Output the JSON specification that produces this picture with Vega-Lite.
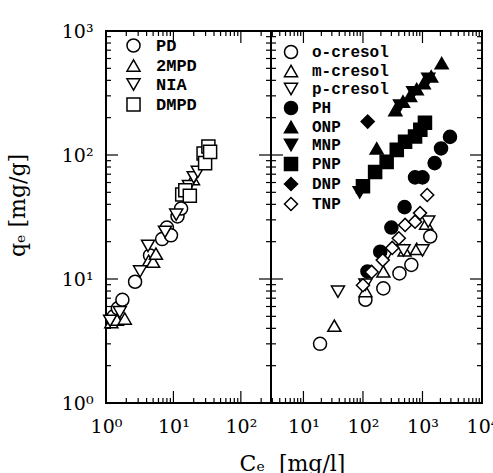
{
  "$schema": "https://vega.github.io/schema/vega-lite/v6.json",
  "padding": {"left": 5, "top": 21, "right": 0, "bottom": 0},
  "background": "white",
  "config": {
    "view": {"stroke": "black", "strokeWidth": 2},
    "axis": {"domain": false, "ticks": false, "grid": false, "labelFont": "DejaVu Serif", "labelFontSize": 19, "labelColor": "black", "titleFont": "DejaVu Serif", "titleFontSize": 22, "titleFontWeight": "normal", "titleColor": "black", "labelOverlap": false, "labelFlush": false},
    "legend": {"labelFont": "Liberation Mono", "labelFontWeight": "bold", "labelFontSize": 17, "labelColor": "black"}
  },
  "datasets": {
    "left": [
      {"series": "PD", "C": 1.3, "q": 5.0}, {"series": "PD", "C": 1.5, "q": 5.8}, {"series": "PD", "C": 1.75, "q": 6.8}, {"series": "PD", "C": 2.7, "q": 9.5}, {"series": "PD", "C": 4.5, "q": 15.5}, {"series": "PD", "C": 6.8, "q": 21}, {"series": "PD", "C": 8.0, "q": 26}, {"series": "PD", "C": 9.2, "q": 22.5}, {"series": "PD", "C": 11.5, "q": 32}, {"series": "PD", "C": 13, "q": 37},
      {"series": "2MPD", "C": 1.2, "q": 4.5}, {"series": "2MPD", "C": 1.45, "q": 4.7}, {"series": "2MPD", "C": 1.9, "q": 4.8}, {"series": "2MPD", "C": 4.3, "q": 14}, {"series": "2MPD", "C": 5.0, "q": 13.8}, {"series": "2MPD", "C": 5.5, "q": 16}, {"series": "2MPD", "C": 14.5, "q": 50}, {"series": "2MPD", "C": 19.5, "q": 64},
      {"series": "NIA", "C": 1.15, "q": 4.6}, {"series": "NIA", "C": 1.6, "q": 5.4}, {"series": "NIA", "C": 3.2, "q": 11.5}, {"series": "NIA", "C": 4.2, "q": 18.5}, {"series": "NIA", "C": 7.5, "q": 24}, {"series": "NIA", "C": 11, "q": 33}, {"series": "NIA", "C": 17, "q": 56}, {"series": "NIA", "C": 20, "q": 66}, {"series": "NIA", "C": 23, "q": 73},
      {"series": "DMPD", "C": 13.5, "q": 48}, {"series": "DMPD", "C": 15, "q": 52}, {"series": "DMPD", "C": 17.5, "q": 47}, {"series": "DMPD", "C": 28, "q": 103}, {"series": "DMPD", "C": 29.5, "q": 86}, {"series": "DMPD", "C": 33, "q": 117}, {"series": "DMPD", "C": 35, "q": 106}
    ],
    "right": [
      {"series": "o-cresol", "C": 19, "q": 3.0}, {"series": "o-cresol", "C": 110, "q": 6.8}, {"series": "o-cresol", "C": 220, "q": 8.4}, {"series": "o-cresol", "C": 410, "q": 11.1}, {"series": "o-cresol", "C": 650, "q": 13}, {"series": "o-cresol", "C": 1350, "q": 22},
      {"series": "m-cresol", "C": 33, "q": 4.2}, {"series": "m-cresol", "C": 110, "q": 8.0}, {"series": "m-cresol", "C": 220, "q": 11.5}, {"series": "m-cresol", "C": 500, "q": 17}, {"series": "m-cresol", "C": 800, "q": 17.5}, {"series": "m-cresol", "C": 1150, "q": 28},
      {"series": "p-cresol", "C": 38, "q": 7.9}, {"series": "p-cresol", "C": 110, "q": 9.0}, {"series": "p-cresol", "C": 250, "q": 15.5}, {"series": "p-cresol", "C": 480, "q": 17}, {"series": "p-cresol", "C": 1000, "q": 17}, {"series": "p-cresol", "C": 1250, "q": 29},
      {"series": "PH", "C": 119, "q": 11.5}, {"series": "PH", "C": 195, "q": 16.6}, {"series": "PH", "C": 300, "q": 26}, {"series": "PH", "C": 500, "q": 38}, {"series": "PH", "C": 750, "q": 66}, {"series": "PH", "C": 1000, "q": 66}, {"series": "PH", "C": 1600, "q": 86}, {"series": "PH", "C": 2050, "q": 113}, {"series": "PH", "C": 2900, "q": 140},
      {"series": "ONP", "C": 170, "q": 113}, {"series": "ONP", "C": 350, "q": 230}, {"series": "ONP", "C": 470, "q": 270}, {"series": "ONP", "C": 620, "q": 300}, {"series": "ONP", "C": 800, "q": 340}, {"series": "ONP", "C": 1050, "q": 380}, {"series": "ONP", "C": 1400, "q": 430}, {"series": "ONP", "C": 2100, "q": 550},
      {"series": "MNP", "C": 88, "q": 50}, {"series": "MNP", "C": 420, "q": 250}, {"series": "MNP", "C": 700, "q": 320}, {"series": "MNP", "C": 1250, "q": 410},
      {"series": "PNP", "C": 100, "q": 56}, {"series": "PNP", "C": 160, "q": 73}, {"series": "PNP", "C": 250, "q": 88}, {"series": "PNP", "C": 370, "q": 110}, {"series": "PNP", "C": 510, "q": 128}, {"series": "PNP", "C": 750, "q": 141}, {"series": "PNP", "C": 920, "q": 160}, {"series": "PNP", "C": 1100, "q": 182},
      {"series": "DNP", "C": 120, "q": 186},
      {"series": "TNP", "C": 100, "q": 8.9}, {"series": "TNP", "C": 140, "q": 11.4}, {"series": "TNP", "C": 215, "q": 14.2}, {"series": "TNP", "C": 310, "q": 17.8}, {"series": "TNP", "C": 400, "q": 21.3}, {"series": "TNP", "C": 510, "q": 27.3}, {"series": "TNP", "C": 750, "q": 29}, {"series": "TNP", "C": 910, "q": 34}, {"series": "TNP", "C": 1200, "q": 47.6}
    ],
    "yt": [
      {"v": 10, "kind": "major"}, {"v": 100, "kind": "major"},
      {"v": 2, "kind": "minor"}, {"v": 3, "kind": "minor"}, {"v": 4, "kind": "minor"}, {"v": 5, "kind": "minor"}, {"v": 6, "kind": "minor"}, {"v": 7, "kind": "minor"}, {"v": 8, "kind": "minor"}, {"v": 9, "kind": "minor"},
      {"v": 20, "kind": "minor"}, {"v": 30, "kind": "minor"}, {"v": 40, "kind": "minor"}, {"v": 50, "kind": "minor"}, {"v": 60, "kind": "minor"}, {"v": 70, "kind": "minor"}, {"v": 80, "kind": "minor"}, {"v": 90, "kind": "minor"},
      {"v": 200, "kind": "minor"}, {"v": 300, "kind": "minor"}, {"v": 400, "kind": "minor"}, {"v": 500, "kind": "minor"}, {"v": 600, "kind": "minor"}, {"v": 700, "kind": "minor"}, {"v": 800, "kind": "minor"}, {"v": 900, "kind": "minor"}
    ],
    "lxt": [
      {"v": 10, "kind": "major"}, {"v": 100, "kind": "major"},
      {"v": 2, "kind": "minor"}, {"v": 3, "kind": "minor"}, {"v": 4, "kind": "minor"}, {"v": 5, "kind": "minor"}, {"v": 6, "kind": "minor"}, {"v": 7, "kind": "minor"}, {"v": 8, "kind": "minor"}, {"v": 9, "kind": "minor"},
      {"v": 20, "kind": "minor"}, {"v": 30, "kind": "minor"}, {"v": 40, "kind": "minor"}, {"v": 50, "kind": "minor"}, {"v": 60, "kind": "minor"}, {"v": 70, "kind": "minor"}, {"v": 80, "kind": "minor"}, {"v": 90, "kind": "minor"},
      {"v": 200, "kind": "minor"}
    ],
    "rxt": [
      {"v": 10, "kind": "major"}, {"v": 100, "kind": "major"}, {"v": 1000, "kind": "major"},
      {"v": 3, "kind": "minor"}, {"v": 4, "kind": "minor"}, {"v": 5, "kind": "minor"}, {"v": 6, "kind": "minor"}, {"v": 7, "kind": "minor"}, {"v": 8, "kind": "minor"}, {"v": 9, "kind": "minor"},
      {"v": 20, "kind": "minor"}, {"v": 30, "kind": "minor"}, {"v": 40, "kind": "minor"}, {"v": 50, "kind": "minor"}, {"v": 60, "kind": "minor"}, {"v": 70, "kind": "minor"}, {"v": 80, "kind": "minor"}, {"v": 90, "kind": "minor"},
      {"v": 200, "kind": "minor"}, {"v": 300, "kind": "minor"}, {"v": 400, "kind": "minor"}, {"v": 500, "kind": "minor"}, {"v": 600, "kind": "minor"}, {"v": 700, "kind": "minor"}, {"v": 800, "kind": "minor"}, {"v": 900, "kind": "minor"},
      {"v": 2000, "kind": "minor"}, {"v": 3000, "kind": "minor"}, {"v": 4000, "kind": "minor"}, {"v": 5000, "kind": "minor"}, {"v": 6000, "kind": "minor"}, {"v": 7000, "kind": "minor"}, {"v": 8000, "kind": "minor"}, {"v": 9000, "kind": "minor"}
    ]
  },
  "hconcat": [
    {
      "width": 165,
      "height": 372,
      "layer": [
        {"data": {"name": "lxt"}, "transform": [{"filter": "datum.kind == 'major'"}], "mark": {"type": "tick", "orient": "vertical", "size": 12, "thickness": 1.2, "color": "black", "opacity": 1, "yOffset": -6}, "encoding": {"x": {"field": "v", "type": "quantitative", "axis": null}, "y": {"datum": 1, "type": "quantitative", "axis": null}}},
        {"data": {"name": "lxt"}, "transform": [{"filter": "datum.kind == 'minor'"}], "mark": {"type": "tick", "orient": "vertical", "size": 5, "thickness": 1.2, "color": "black", "opacity": 1, "yOffset": -2.5}, "encoding": {"x": {"field": "v", "type": "quantitative", "axis": null}, "y": {"datum": 1, "type": "quantitative", "axis": null}}},
        {"data": {"name": "lxt"}, "transform": [{"filter": "datum.kind == 'major'"}], "mark": {"type": "tick", "orient": "vertical", "size": 12, "thickness": 1.2, "color": "black", "opacity": 1, "yOffset": 6}, "encoding": {"x": {"field": "v", "type": "quantitative", "axis": null}, "y": {"datum": 1000, "type": "quantitative", "axis": null}}},
        {"data": {"name": "lxt"}, "transform": [{"filter": "datum.kind == 'minor'"}], "mark": {"type": "tick", "orient": "vertical", "size": 5, "thickness": 1.2, "color": "black", "opacity": 1, "yOffset": 2.5}, "encoding": {"x": {"field": "v", "type": "quantitative", "axis": null}, "y": {"datum": 1000, "type": "quantitative", "axis": null}}},
        {"data": {"name": "yt"}, "transform": [{"filter": "datum.kind == 'major'"}], "mark": {"type": "tick", "orient": "horizontal", "size": 12, "thickness": 1.2, "color": "black", "opacity": 1, "xOffset": 6}, "encoding": {"y": {"field": "v", "type": "quantitative", "axis": null}, "x": {"datum": 1, "type": "quantitative", "axis": null}}},
        {"data": {"name": "yt"}, "transform": [{"filter": "datum.kind == 'minor'"}], "mark": {"type": "tick", "orient": "horizontal", "size": 5, "thickness": 1.2, "color": "black", "opacity": 1, "xOffset": 2.5}, "encoding": {"y": {"field": "v", "type": "quantitative", "axis": null}, "x": {"datum": 1, "type": "quantitative", "axis": null}}},
        {"data": {"name": "yt"}, "transform": [{"filter": "datum.kind == 'major'"}], "mark": {"type": "tick", "orient": "horizontal", "size": 12, "thickness": 1.2, "color": "black", "opacity": 1, "xOffset": -6}, "encoding": {"y": {"field": "v", "type": "quantitative", "axis": null}, "x": {"datum": 280, "type": "quantitative", "axis": null}}},
        {"data": {"name": "yt"}, "transform": [{"filter": "datum.kind == 'minor'"}], "mark": {"type": "tick", "orient": "horizontal", "size": 5, "thickness": 1.2, "color": "black", "opacity": 1, "xOffset": -2.5}, "encoding": {"y": {"field": "v", "type": "quantitative", "axis": null}, "x": {"datum": 280, "type": "quantitative", "axis": null}}},
        {
          "data": {"name": "left"},
          "mark": {"type": "point", "opacity": 1, "strokeWidth": 1.5, "size": 170},
          "encoding": {
            "x": {"field": "C", "type": "quantitative", "scale": {"type": "log", "domain": [1, 280], "nice": false},
                  "axis": {"orient": "bottom", "values": [1, 10, 100], "labelPadding": 14, "labelExpr": "datum.value == 1 ? '10⁰' : datum.value == 10 ? '10¹' : '10²'", "title": "Cₑ\u00a0\u00a0[mg/l]", "titleX": 186, "titleY": 67, "titleAlign": "center", "titleBaseline": "alphabetic"}},
            "y": {"field": "q", "type": "quantitative", "scale": {"type": "log", "domain": [1, 1000], "nice": false},
                  "axis": {"orient": "left", "values": [1, 10, 100, 1000], "labelPadding": 13, "labelExpr": "datum.value == 1 ? '10⁰' : datum.value == 10 ? '10¹' : datum.value == 100 ? '10²' : '10³'", "title": "qₑ\u00a0[mg/g]", "titleX": -77, "titleY": 174, "titleAlign": "center", "titleAngle": -90}},
            "shape": {"field": "series", "type": "nominal", "sort": null, "scale": {"domain": ["PD", "2MPD", "NIA", "DMPD"], "range": ["circle", "triangle-up", "triangle-down", "square"]},
                      "legend": {"orient": "none", "legendX": 19, "legendY": 6, "title": null, "symbolSize": 170, "symbolStrokeWidth": 1.5, "symbolOpacity": 1, "labelOffset": 14, "rowPadding": 0}},
            "fill": {"field": "series", "type": "nominal", "sort": null, "scale": {"domain": ["PD", "2MPD", "NIA", "DMPD"], "range": ["white", "white", "white", "white"]},
                     "legend": {"orient": "none", "legendX": 19, "legendY": 6, "title": null, "symbolSize": 170, "symbolStrokeWidth": 1.5, "symbolOpacity": 1, "labelOffset": 14, "rowPadding": 0}},
            "stroke": {"field": "series", "type": "nominal", "sort": null, "scale": {"domain": ["PD", "2MPD", "NIA", "DMPD"], "range": ["black", "black", "black", "black"]},
                     "legend": {"orient": "none", "legendX": 19, "legendY": 6, "title": null, "symbolSize": 170, "symbolStrokeWidth": 1.5, "symbolOpacity": 1, "labelOffset": 14, "rowPadding": 0}}
          }
        }
      ],
      "resolve": {"axis": {"x": "independent", "y": "independent"}}
    },
    {
      "width": 211,
      "height": 372,
      "layer": [
        {"data": {"name": "rxt"}, "transform": [{"filter": "datum.kind == 'major'"}], "mark": {"type": "tick", "orient": "vertical", "size": 12, "thickness": 1.2, "color": "black", "opacity": 1, "yOffset": -6}, "encoding": {"x": {"field": "v", "type": "quantitative", "axis": null}, "y": {"datum": 1, "type": "quantitative", "axis": null}}},
        {"data": {"name": "rxt"}, "transform": [{"filter": "datum.kind == 'minor'"}], "mark": {"type": "tick", "orient": "vertical", "size": 5, "thickness": 1.2, "color": "black", "opacity": 1, "yOffset": -2.5}, "encoding": {"x": {"field": "v", "type": "quantitative", "axis": null}, "y": {"datum": 1, "type": "quantitative", "axis": null}}},
        {"data": {"name": "rxt"}, "transform": [{"filter": "datum.kind == 'major'"}], "mark": {"type": "tick", "orient": "vertical", "size": 12, "thickness": 1.2, "color": "black", "opacity": 1, "yOffset": 6}, "encoding": {"x": {"field": "v", "type": "quantitative", "axis": null}, "y": {"datum": 1000, "type": "quantitative", "axis": null}}},
        {"data": {"name": "rxt"}, "transform": [{"filter": "datum.kind == 'minor'"}], "mark": {"type": "tick", "orient": "vertical", "size": 5, "thickness": 1.2, "color": "black", "opacity": 1, "yOffset": 2.5}, "encoding": {"x": {"field": "v", "type": "quantitative", "axis": null}, "y": {"datum": 1000, "type": "quantitative", "axis": null}}},
        {"data": {"name": "yt"}, "transform": [{"filter": "datum.kind == 'major'"}], "mark": {"type": "tick", "orient": "horizontal", "size": 12, "thickness": 1.2, "color": "black", "opacity": 1, "xOffset": 6}, "encoding": {"y": {"field": "v", "type": "quantitative", "axis": null}, "x": {"datum": 2.85, "type": "quantitative", "axis": null}}},
        {"data": {"name": "yt"}, "transform": [{"filter": "datum.kind == 'minor'"}], "mark": {"type": "tick", "orient": "horizontal", "size": 5, "thickness": 1.2, "color": "black", "opacity": 1, "xOffset": 2.5}, "encoding": {"y": {"field": "v", "type": "quantitative", "axis": null}, "x": {"datum": 2.85, "type": "quantitative", "axis": null}}},
        {"data": {"name": "yt"}, "transform": [{"filter": "datum.kind == 'major'"}], "mark": {"type": "tick", "orient": "horizontal", "size": 12, "thickness": 1.2, "color": "black", "opacity": 1, "xOffset": -6}, "encoding": {"y": {"field": "v", "type": "quantitative", "axis": null}, "x": {"datum": 10000, "type": "quantitative", "axis": null}}},
        {"data": {"name": "yt"}, "transform": [{"filter": "datum.kind == 'minor'"}], "mark": {"type": "tick", "orient": "horizontal", "size": 5, "thickness": 1.2, "color": "black", "opacity": 1, "xOffset": -2.5}, "encoding": {"y": {"field": "v", "type": "quantitative", "axis": null}, "x": {"datum": 10000, "type": "quantitative", "axis": null}}},
        {
          "data": {"name": "right"},
          "mark": {"type": "point", "opacity": 1, "strokeWidth": 1.5, "size": 170},
          "encoding": {
            "x": {"field": "C", "type": "quantitative", "scale": {"type": "log", "domain": [2.85, 10000], "nice": false},
                  "axis": {"orient": "bottom", "values": [10, 100, 1000, 10000], "labelPadding": 14, "labelExpr": "datum.value == 10 ? '10¹' : datum.value == 100 ? '10²' : datum.value == 1000 ? '10³' : '10⁴'", "title": null}},
            "y": {"field": "q", "type": "quantitative", "scale": {"type": "log", "domain": [1, 1000], "nice": false}, "axis": null},
            "shape": {"field": "series", "type": "nominal", "sort": null, "scale": {"domain": ["o-cresol", "m-cresol", "p-cresol", "PH", "ONP", "MNP", "PNP", "DNP", "TNP"], "range": ["circle", "triangle-up", "triangle-down", "circle", "triangle-up", "triangle-down", "square", "diamond", "diamond"]},
                      "legend": {"orient": "none", "legendX": 12, "legendY": 13, "title": null, "symbolSize": 170, "symbolStrokeWidth": 1.5, "symbolOpacity": 1, "labelOffset": 13, "labelFontSize": 16, "rowPadding": 0}},
            "fill": {"field": "series", "type": "nominal", "sort": null, "scale": {"domain": ["o-cresol", "m-cresol", "p-cresol", "PH", "ONP", "MNP", "PNP", "DNP", "TNP"], "range": ["white", "white", "white", "black", "black", "black", "black", "black", "white"]},
                     "legend": {"orient": "none", "legendX": 12, "legendY": 13, "title": null, "symbolSize": 170, "symbolStrokeWidth": 1.5, "symbolOpacity": 1, "labelOffset": 13, "labelFontSize": 16, "rowPadding": 0}},
            "stroke": {"field": "series", "type": "nominal", "sort": null, "scale": {"domain": ["o-cresol", "m-cresol", "p-cresol", "PH", "ONP", "MNP", "PNP", "DNP", "TNP"], "range": ["black", "black", "black", "black", "black", "black", "black", "black", "black"]},
                     "legend": {"orient": "none", "legendX": 12, "legendY": 13, "title": null, "symbolSize": 170, "symbolStrokeWidth": 1.5, "symbolOpacity": 1, "labelOffset": 13, "labelFontSize": 16, "rowPadding": 0}}
          }
        }
      ],
      "resolve": {"axis": {"x": "independent", "y": "independent"}}
    }
  ],
  "spacing": 0,
  "bounds": "flush",
  "resolve": {"scale": {"x": "independent", "y": "independent", "shape": "independent", "fill": "independent", "stroke": "independent"}, "legend": {"shape": "independent", "fill": "independent", "stroke": "independent"}}
}
